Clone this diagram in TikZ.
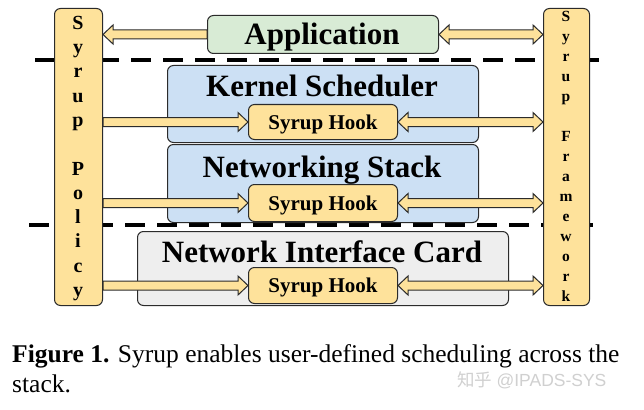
\documentclass[tikz,border=0pt]{standalone}
\usepackage{fontspec}
\setmainfont{Liberation Serif}
\newfontfamily\cjk{Noto Sans CJK SC}
\newfontfamily\wmsans{Liberation Sans}
\usetikzlibrary{calc}
\definecolor{yel}{HTML}{FEE29B}
\definecolor{grn}{HTML}{D8EBD5}
\definecolor{blu}{HTML}{CCE0F4}
\definecolor{gry}{HTML}{EEEEEE}
\definecolor{edge}{HTML}{2B2B2B}
\definecolor{wm}{HTML}{D0D0D0}
\tikzset{
  box/.style={draw=edge, line width=1pt, rounded corners=6pt, anchor=north west, inner sep=0pt},
  bar/.style={box, fill=yel},
  hookbox/.style={box, fill=yel},
  hooktext/.style={font=\bfseries\fontsize{21}{23}\selectfont, inner sep=0pt, anchor=base},
  title/.style={font=\bfseries\fontsize{31}{33}\selectfont, inner sep=0pt, anchor=base},
  lletter/.style={font=\bfseries\fontsize{20}{21}\selectfont, inner sep=0pt},
  rletter/.style={font=\bfseries\fontsize{15.5}{16}\selectfont, inner sep=0pt},
  fat/.style={fill=yel, draw=edge, line width=1pt, line join=miter},
  sep/.style={line width=4pt, dash pattern=on 20pt off 12pt}
}
\newcommand\sarrow[2]{%
  \path[fat] let \p1=(#1), \p2=(#2), \p3=($(#2)!10pt!(#1)$) in
    (\x1,\y1-4.5pt) -- (\x3,\y1-4.5pt) -- (\x3,\y1-9.5pt) -- (\x2,\y2) --
    (\x3,\y1+9.5pt) -- (\x3,\y1+4.5pt) -- (\x1,\y1+4.5pt) -- cycle;}
\newcommand\darrow[2]{%
  \path[fat] let \p1=(#1), \p2=(#2), \p3=($(#2)!10pt!(#1)$), \p4=($(#1)!10pt!(#2)$) in
    (\x1,\y1) -- (\x4,\y1+9.5pt) -- (\x4,\y1+4.5pt) -- (\x3,\y1+4.5pt) -- (\x3,\y1+9.5pt) --
    (\x2,\y2) -- (\x3,\y1-9.5pt) -- (\x3,\y1-4.5pt) -- (\x4,\y1-4.5pt) -- (\x4,\y1-9.5pt) -- cycle;}
\begin{document}
\begin{tikzpicture}[x=1pt,y=-1pt]
\useasboundingbox[fill=white] (0,0) rectangle (644,409);
% separators
\coordinate (s1a) at (35,60);
\coordinate (s1b) at (603,60);
\coordinate (s2a) at (29,225);
\coordinate (s2b) at (598,225);
\draw[sep] (s1a) -- (s1b);
\draw[sep] (s2a) -- (s2b);
% bars
\node[bar, minimum width=48pt, minimum height=297pt] (lp) at (54,8) {};
\node[bar, minimum width=46pt, minimum height=297pt] (rp) at (543,8) {};
% layers
\node[box, fill=grn, minimum width=231pt, minimum height=38pt] (app) at (207,15) {};
\node[box, fill=blu, minimum width=311pt, minimum height=77pt] (ks) at (167,65) {};
\node[box, fill=blu, minimum width=311pt, minimum height=78pt] (ns) at (167,144) {};
\node[box, fill=gry, minimum width=371pt, minimum height=74pt] (nic) at (137,231) {};
\node[title] (appt) at (322,45) {Application};
\node[title] (kst) at (322,97) {Kernel Scheduler};
\node[title] (nst) at (322,177) {Networking Stack};
\node[title] (nict) at (322,262) {Network Interface Card};
% hooks
\node[hookbox, minimum width=149pt, minimum height=35pt] (h1) at (248,104) {};
\node[hookbox, minimum width=149pt, minimum height=37pt] (h2) at (248,184) {};
\node[hookbox, minimum width=149pt, minimum height=36pt] (h3) at (248,267) {};
\foreach \h in {h1,h2,h3} \node[hooktext] (\h t) at ($(\h.center)+(0,7)$) {Syrup Hook};
% bar letters
\foreach \c [count=\i from 0] in {S,y,r,u,p,{},P,o,l,i,c,y}
  \node[lletter] (ll\i) at (78,{25+24.3*\i}) {\strut\c};
\foreach \c [count=\i from 0] in {S,y,r,u,p,{},F,r,a,m,e,w,o,r,k}
  \node[rletter] (rl\i) at (566,{18+20*\i}) {\strut\c};
% arrows
\sarrow{app.west}{lp.east |- app.west}
\darrow{app.east}{rp.west |- app.east}
\foreach \h in {h1,h2,h3}{
  \sarrow{lp.east |- \h.west}{\h.west}
  \darrow{\h.east}{rp.west |- \h.east}
}
% caption
\node[anchor=base west, inner sep=0pt, font=\fontsize{25.5}{30}\selectfont] (cap1) at (12,362) {\textbf{Figure 1.} Syrup enables user-defined scheduling across the};
\node[anchor=base west, inner sep=0pt, font=\fontsize{25.5}{30}\selectfont] (cap2) at (12,392) {stack.};
\node[anchor=base west, inner sep=0pt, text=wm, font=\fontsize{17.5}{19}\selectfont] (wmk) at (457,386) {{\cjk 知乎} {\wmsans @IPADS-SYS}};
\end{tikzpicture}
\end{document}
